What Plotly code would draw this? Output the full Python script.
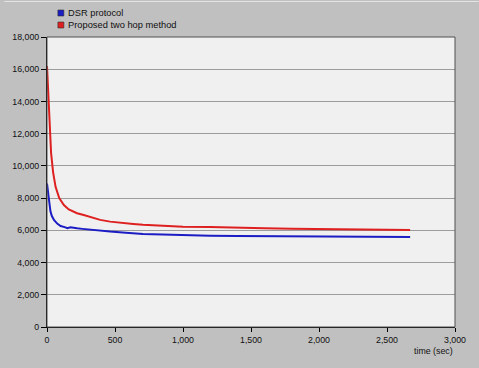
import plotly.graph_objects as go

# DSR protocol
dsr_t = [0, 5, 10, 15, 25, 35, 51, 75, 100, 130, 150, 172, 190, 221, 260, 300, 380, 464, 580,
         706, 850, 950, 1100, 1200, 1400, 1600, 1800, 2000, 2200, 2400, 2670]
dsr_v = [8900, 8500, 8000, 7680, 7200, 6900, 6640, 6420, 6270, 6200, 6130, 6190, 6160, 6125, 6090,
         6050, 5980, 5920, 5850, 5770, 5740, 5710, 5700, 5660, 5650, 5640, 5620, 5610, 5600, 5600, 5590]

# Proposed two hop method
prop_t = [0, 8, 15, 22, 30, 45, 63, 90, 124, 160, 221, 270, 330, 391, 464, 550, 634, 706, 850,
          1000, 1200, 1400, 1600, 1800, 2000, 2200, 2400, 2670]
prop_v = [16200, 14500, 12900, 11600, 10800, 9600, 8700, 8000, 7570, 7300, 7060, 6950, 6800, 6650,
          6540, 6450, 6390, 6340, 6270, 6220, 6200, 6150, 6130, 6100, 6080, 6060, 6040, 6020]

series_names = ["DSR protocol", "Proposed two hop method"]
series_colors = ["#1c1cc4", "#de2020"]

x_ticks = [0, 500, 1000, 1500, 2000, 2500, 3000]
y_ticks = [0, 2000, 4000, 6000, 8000, 10000, 12000, 14000, 16000, 18000]

FONT = "Liberation Sans, Arial, sans-serif"

fig = go.Figure()
fig.add_trace(go.Scatter(x=dsr_t, y=dsr_v, mode="lines", name=series_names[0],
                         line=dict(color=series_colors[0], width=2), showlegend=False))
fig.add_trace(go.Scatter(x=prop_t, y=prop_v, mode="lines", name=series_names[1],
                         line=dict(color=series_colors[1], width=2), showlegend=False))

W, H = 479, 368
L, R, T, B = 43, 24, 37, 41
pw, ph = W - L - R, H - T - B

def px2x(p):
    return (p - L) / pw

def px2y(p):
    return (H - B - p) / ph

shapes = []
annotations = []
for i, (nm, col) in enumerate(zip(series_names, series_colors)):
    cy = 13 + 12 * i
    shapes.append(dict(type="rect", xref="paper", yref="paper",
                       x0=px2x(54), x1=px2x(60), y0=px2y(cy - 3), y1=px2y(cy + 3),
                       fillcolor=col, line=dict(color="#303030", width=0.6)))
    annotations.append(dict(text=nm, xref="paper", yref="paper", x=px2x(62), y=px2y(cy),
                            xanchor="left", yanchor="middle", showarrow=False,
                            font=dict(family=FONT, size=9.3, color="#101010")))

# plot frame (top/right)
shapes.append(dict(type="rect", xref="paper", yref="paper", x0=0, x1=1, y0=0, y1=1,
                   line=dict(color="#505050", width=1), layer="above"))
# light outer border at top of image
shapes.append(dict(type="line", xref="paper", yref="paper", x0=px2x(0), x1=px2x(W),
                   y0=px2y(1.5), y1=px2y(1.5), line=dict(color="#e4e4e4", width=1)))

annotations.append(dict(text="time (sec)", xref="paper", yref="paper", x=1, y=px2y(351),
                        xanchor="right", yanchor="middle", showarrow=False,
                        font=dict(family=FONT, size=8.8, color="#101010")))

fig.update_layout(
    width=W, height=H,
    margin=dict(l=L, r=R, t=T, b=B, pad=0),
    paper_bgcolor="#c0c0c0",
    plot_bgcolor="#f0f0f0",
    font=dict(family=FONT, size=8.8, color="#101010"),
    shapes=shapes,
    annotations=annotations,
    showlegend=False,
)
fig.update_xaxes(range=[0, 3000], tickvals=x_ticks, ticktext=[f"{v:,}" for v in x_ticks],
                 showgrid=False, zeroline=False, showline=True, linecolor="#000000", linewidth=1,
                 ticks="outside", ticklen=4, tickcolor="#000000", tickfont=dict(size=8.8))
fig.update_yaxes(range=[0, 18000], tickvals=y_ticks, ticktext=[f"{v:,}" for v in y_ticks],
                 showgrid=True, gridcolor="#9c9c9c", gridwidth=1, zeroline=False,
                 showline=True, linecolor="#000000", linewidth=1,
                 ticks="outside", ticklen=5, tickcolor="#000000", tickfont=dict(size=8.8))

fig.write_html("out.html")
